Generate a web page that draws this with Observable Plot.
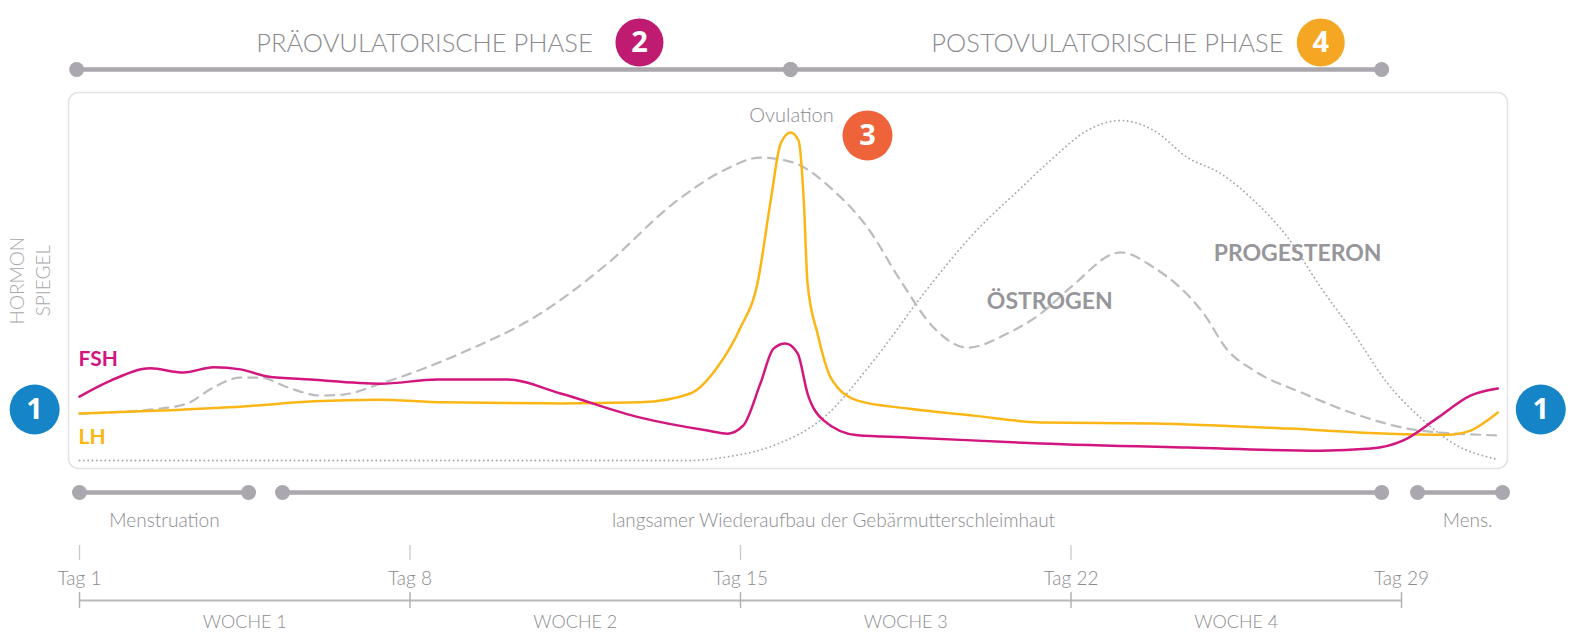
<!DOCTYPE html>
<html><head><meta charset="utf-8">
<script src="https://cdn.jsdelivr.net/npm/d3@7"></script>
<script src="https://cdn.jsdelivr.net/npm/@observablehq/plot@0.6"></script>
<style>
html,body{margin:0;padding:0;background:#fff;}
#chart{width:1571px;height:636px;overflow:hidden;}
#chart svg{display:block;}
</style></head><body><div id="chart"></div>
<script>
// ---------- hormone curves (x: cycle day, y: relative hormone level 0–100) ----------
const fshDay = [1.0, 1.66, 2.50, 3.20, 3.84, 4.41, 4.98, 5.89, 7.38, 8.58, 10.07, 11.19, 12.88, 14.30, 14.73, 15.06, 15.42, 15.70, 15.95, 16.21, 16.42, 16.76, 17.48, 18.54, 21.36, 24.47, 27.29, 28.35, 29.04, 29.77, 30.46, 31.04];
const fshLevel = [18.8, 23.5, 27.1, 25.9, 27.4, 26.8, 24.7, 23.8, 22.6, 23.8, 23.8, 19.7, 12.6, 8.8, 7.9, 10.3, 22.6, 32.9, 34.4, 31.5, 19.7, 11.8, 7.4, 6.8, 5.0, 3.8, 2.9, 3.5, 5.9, 12.6, 19.1, 21.2];

const lhDay = [1.0, 2.72, 4.47, 5.96, 7.31, 8.71, 11.19, 12.88, 13.94, 14.51, 15.00, 15.36, 15.64, 15.85, 16.06, 16.23, 16.34, 16.42, 16.63, 16.91, 17.48, 18.54, 19.94, 21.36, 23.75, 26.59, 28.71, 29.98, 30.46, 30.82, 31.04];
const lhLevel = [13.8, 14.7, 15.9, 17.4, 17.9, 17.1, 16.8, 17.1, 19.7, 27.4, 39.1, 52.1, 76.5, 93.2, 96.5, 94.1, 76.5, 52.1, 37.4, 24.4, 17.6, 15.3, 13.2, 11.2, 10.9, 9.4, 7.9, 7.6, 8.8, 11.8, 14.1];

const estDay = [1.0, 2.72, 3.29, 3.84, 4.41, 4.83, 5.41, 6.10, 6.59, 7.38, 9.07, 10.76, 12.18, 13.58, 14.64, 15.42, 16.12, 16.97, 17.69, 18.39, 19.09, 19.81, 20.66, 21.36, 21.99, 23.05, 23.75, 24.81, 25.32, 25.87, 26.93, 27.99, 29.40, 31.04];
const estLevel = [13.8, 15.3, 16.8, 21.5, 24.4, 24.4, 21.5, 19.1, 19.4, 22.6, 31.5, 43.2, 57.9, 75.6, 85.3, 89.1, 87.6, 79.4, 68.5, 52.9, 39.1, 33.2, 37.4, 43.2, 50.9, 61.2, 56.8, 43.2, 32.4, 26.5, 19.7, 13.8, 8.8, 7.4];

const progDay = [1.0, 13.94, 14.64, 15.70, 16.76, 17.82, 18.88, 19.94, 20.93, 21.63, 22.35, 23.05, 23.75, 24.47, 25.17, 25.87, 26.59, 27.29, 27.99, 28.71, 29.40, 30.10, 31.04];
const progLevel = [0, 0, 0.9, 4.4, 12.6, 29.4, 49.1, 66.8, 80.0, 89.1, 97.1, 100, 97.1, 89.1, 84.4, 76.5, 65.6, 50.9, 37.4, 22.6, 12.6, 5.0, 0.3];

// ---------- phases (top) ----------
const phaseNames = ["PRÄOVULATORISCHE PHASE", "POSTOVULATORISCHE PHASE"];
const phaseStart = [0.94, 16.06];
const phaseEnd = [16.06, 28.58];
const phaseLabelEnd = [11.87, 26.50];
const phaseBadgeAt = [12.86, 27.29];
const phaseBadge = ["2", "4"];
const phaseBadgeColor = ["#bf1b70", "#f5a623"];

// ---------- endometrium (bottom) ----------
const endoNames = ["Menstruation", "langsamer Wiederaufbau der Gebärmutterschleimhaut", "Mens."];
const endoStart = [1.0, 5.30, 29.34];
const endoEnd = [4.58, 28.58, 31.14];
const endoLabelAt = [2.80, 16.97, 30.40];

// ---------- day / week axis ----------
const tagDays = [1, 8, 15, 22, 29];
const tagLabels = ["Tag 1", "Tag 8", "Tag 15", "Tag 22", "Tag 29"];
const tagTickDays = [1, 8, 15, 22];
const weekNames = ["WOCHE 1", "WOCHE 2", "WOCHE 3", "WOCHE 4"];
const weekBounds = [1, 8, 15, 22, 29];

// ---------- annotations inside the hormone panel ----------
const seriesLabels = ["FSH", "LH"];
const seriesLabelDay = [0.98, 0.98];
const seriesLabelLevel = [29.7, 6.8];
const seriesColors = ["#d3157e", "#fbb616"];
const curveLabels = ["ÖSTROGEN", "PROGESTERON"];
const curveLabelDay = [21.55, 26.80];
const curveLabelLevel = [46.8, 60.9];
const ovulationDay = 16.08, ovulationLevel = 101.5;
const badgeTexts = ["3", "1", "1"];
const badgeDay = [17.69, 0.05, 31.95];
const badgeLevel = [95.6, 15.0, 15.0];
const badgeColors = ["#ef633b", "#1685c8", "#1685c8"];
const axisWords = ["HORMON", "SPIEGEL"];
const axisWordDay = [-0.31, 0.24];
const axisWordLevel = [52.9, 52.9];

// ---------- build tables ----------
const zip = (ds, ls) => ds.map((day, i) => ({day, level: ls[i]}));
const fsh = zip(fshDay, fshLevel), lh = zip(lhDay, lhLevel), est = zip(estDay, estLevel), prog = zip(progDay, progLevel);
const phases = phaseNames.map((name, i) => ({name, start: phaseStart[i], end: phaseEnd[i], labelEnd: phaseLabelEnd[i], badgeAt: phaseBadgeAt[i], badge: phaseBadge[i], badgeColor: phaseBadgeColor[i]}));
const endo = endoNames.map((name, i) => ({name, start: endoStart[i], end: endoEnd[i], labelAt: endoLabelAt[i]}));
const tags = tagDays.map((d, i) => ({day: d, label: tagLabels[i]}));
const weeks = weekNames.map((name, i) => ({name, mid: (weekBounds[i] + weekBounds[i + 1]) / 2}));
const weekSpan = [{start: weekBounds[0], end: weekBounds[weekBounds.length - 1]}];
const sLabels = seriesLabels.map((t, i) => ({t, day: seriesLabelDay[i], level: seriesLabelLevel[i], c: seriesColors[i]}));
const cLabels = curveLabels.map((t, i) => ({t, day: curveLabelDay[i], level: curveLabelLevel[i]}));
const badges = badgeTexts.map((t, i) => ({t, day: badgeDay[i], level: badgeLevel[i], c: badgeColors[i]}));
const aWords = axisWords.map((t, i) => ({t, day: axisWordDay[i], level: axisWordLevel[i]}));

// ---------- styling ----------
const FONT = "Lato, 'Open Sans', sans-serif";
const BAR = "#aaa7ae";
const TXT = "#8b8b8f";
const base = (o) => Plot.plot({
  width: 1571,
  x: {domain: [1, 29], range: [79, 1401], axis: null},
  color: {type: "identity"},
  style: {fontFamily: FONT, background: "transparent", overflow: "visible"},
  ...o
});

const root = document.getElementById("chart");

// top phases
root.append(base({
  height: 82, marginTop: 60, marginBottom: 4, marginLeft: 0, marginRight: 0,
  marks: [
    Plot.ruleY(phases, {x1: "start", x2: "end", y: null, stroke: BAR, strokeWidth: 4.5}),
    Plot.dot(phases, {x: "start", r: 7.5, fill: BAR}),
    Plot.dot(phases, {x: "end", r: 7.5, fill: BAR}),
    Plot.text(phases, {x: "labelEnd", text: "name", textAnchor: "end", dy: -26, fontSize: 25.5, fontWeight: 300, fill: TXT}),
    Plot.dot(phases, {x: "badgeAt", dy: -27, r: 24, fill: "badgeColor"}),
    Plot.text(phases, {x: "badgeAt", dy: -27, text: "badge", fill: "white", fontSize: 29, fontWeight: 700, fontFamily: "'Open Sans', sans-serif"})
  ]
}));

// hormone panel
root.append(base({
  height: 394, marginTop: 10, marginBottom: 8, marginLeft: 68, marginRight: 64,
  y: {domain: [0, 100], range: [378, 38], axis: null},
  marks: [
    Plot.frame({rx: 10, stroke: "#e1e1e7", strokeWidth: 1.5}),
    Plot.line(prog, {x: "day", y: "level", curve: "monotone-x", stroke: "#a6a6aa", strokeWidth: 1.8, strokeDasharray: "0.1,4.2", strokeLinecap: "round"}),
    Plot.line(est, {x: "day", y: "level", curve: "monotone-x", stroke: "#bcbcc0", strokeWidth: 2.2, strokeDasharray: "9,7"}),
    Plot.line(lh, {x: "day", y: "level", curve: "monotone-x", stroke: seriesColors[1], strokeWidth: 2.5}),
    Plot.line(fsh, {x: "day", y: "level", curve: "monotone-x", stroke: seriesColors[0], strokeWidth: 2.5}),
    Plot.text(sLabels, {x: "day", y: "level", text: "t", fill: "c", textAnchor: "start", fontSize: 21, fontWeight: 700}),
    Plot.text(cLabels, {x: "day", y: "level", text: "t", fill: "#96969b", fontSize: 23, fontWeight: 700}),
    Plot.text([{t: "Ovulation", day: ovulationDay, level: ovulationLevel}], {x: "day", y: "level", text: "t", fill: TXT, fontSize: 20, fontWeight: 300}),
    Plot.text(aWords, {x: "day", y: "level", text: "t", rotate: -90, fill: "#a7a7ab", fontSize: 19, fontWeight: 300}),
    Plot.dot(badges, {x: "day", y: "level", r: 25, fill: "c"}),
    Plot.text(badges, {x: "day", y: "level", text: "t", fill: "white", fontSize: 29, fontWeight: 700, fontFamily: "'Open Sans', sans-serif"})
  ]
}));

// endometrium
root.append(base({
  height: 60, marginTop: 8, marginBottom: 36, marginLeft: 0, marginRight: 0,
  marks: [
    Plot.ruleY(endo, {x1: "start", x2: "end", y: null, stroke: BAR, strokeWidth: 4.5}),
    Plot.dot(endo, {x: "start", r: 7.5, fill: BAR}),
    Plot.dot(endo, {x: "end", r: 7.5, fill: BAR}),
    Plot.text(endo, {x: "labelAt", text: "name", dy: 28, fontSize: 19, fontWeight: 300, fill: TXT})
  ]
}));

// days
root.append(base({
  height: 54, marginTop: 9, marginBottom: 30, marginLeft: 0, marginRight: 0,
  marks: [
    Plot.tickX(tagTickDays, {x: d => d, stroke: "#c9c9ce", strokeWidth: 1.3}),
    Plot.text(tags, {x: "day", text: "label", frameAnchor: "bottom", lineAnchor: "middle", dy: 18, fontSize: 19, fontWeight: 300, fill: TXT})
  ]
}));

// weeks
root.append(base({
  height: 46, marginTop: 2, marginBottom: 28, marginLeft: 0, marginRight: 0,
  marks: [
    Plot.ruleY(weekSpan, {x1: "start", x2: "end", y: null, stroke: "#b9b9bd", strokeWidth: 2}),
    Plot.tickX(weekBounds, {x: d => d, stroke: "#b3b3b7", strokeWidth: 1.5}),
    Plot.text(weeks, {x: "mid", text: "name", frameAnchor: "bottom", lineAnchor: "middle", dy: 14, fontSize: 18, fontWeight: 300, fill: TXT})
  ]
}));
</script>
</body></html>
